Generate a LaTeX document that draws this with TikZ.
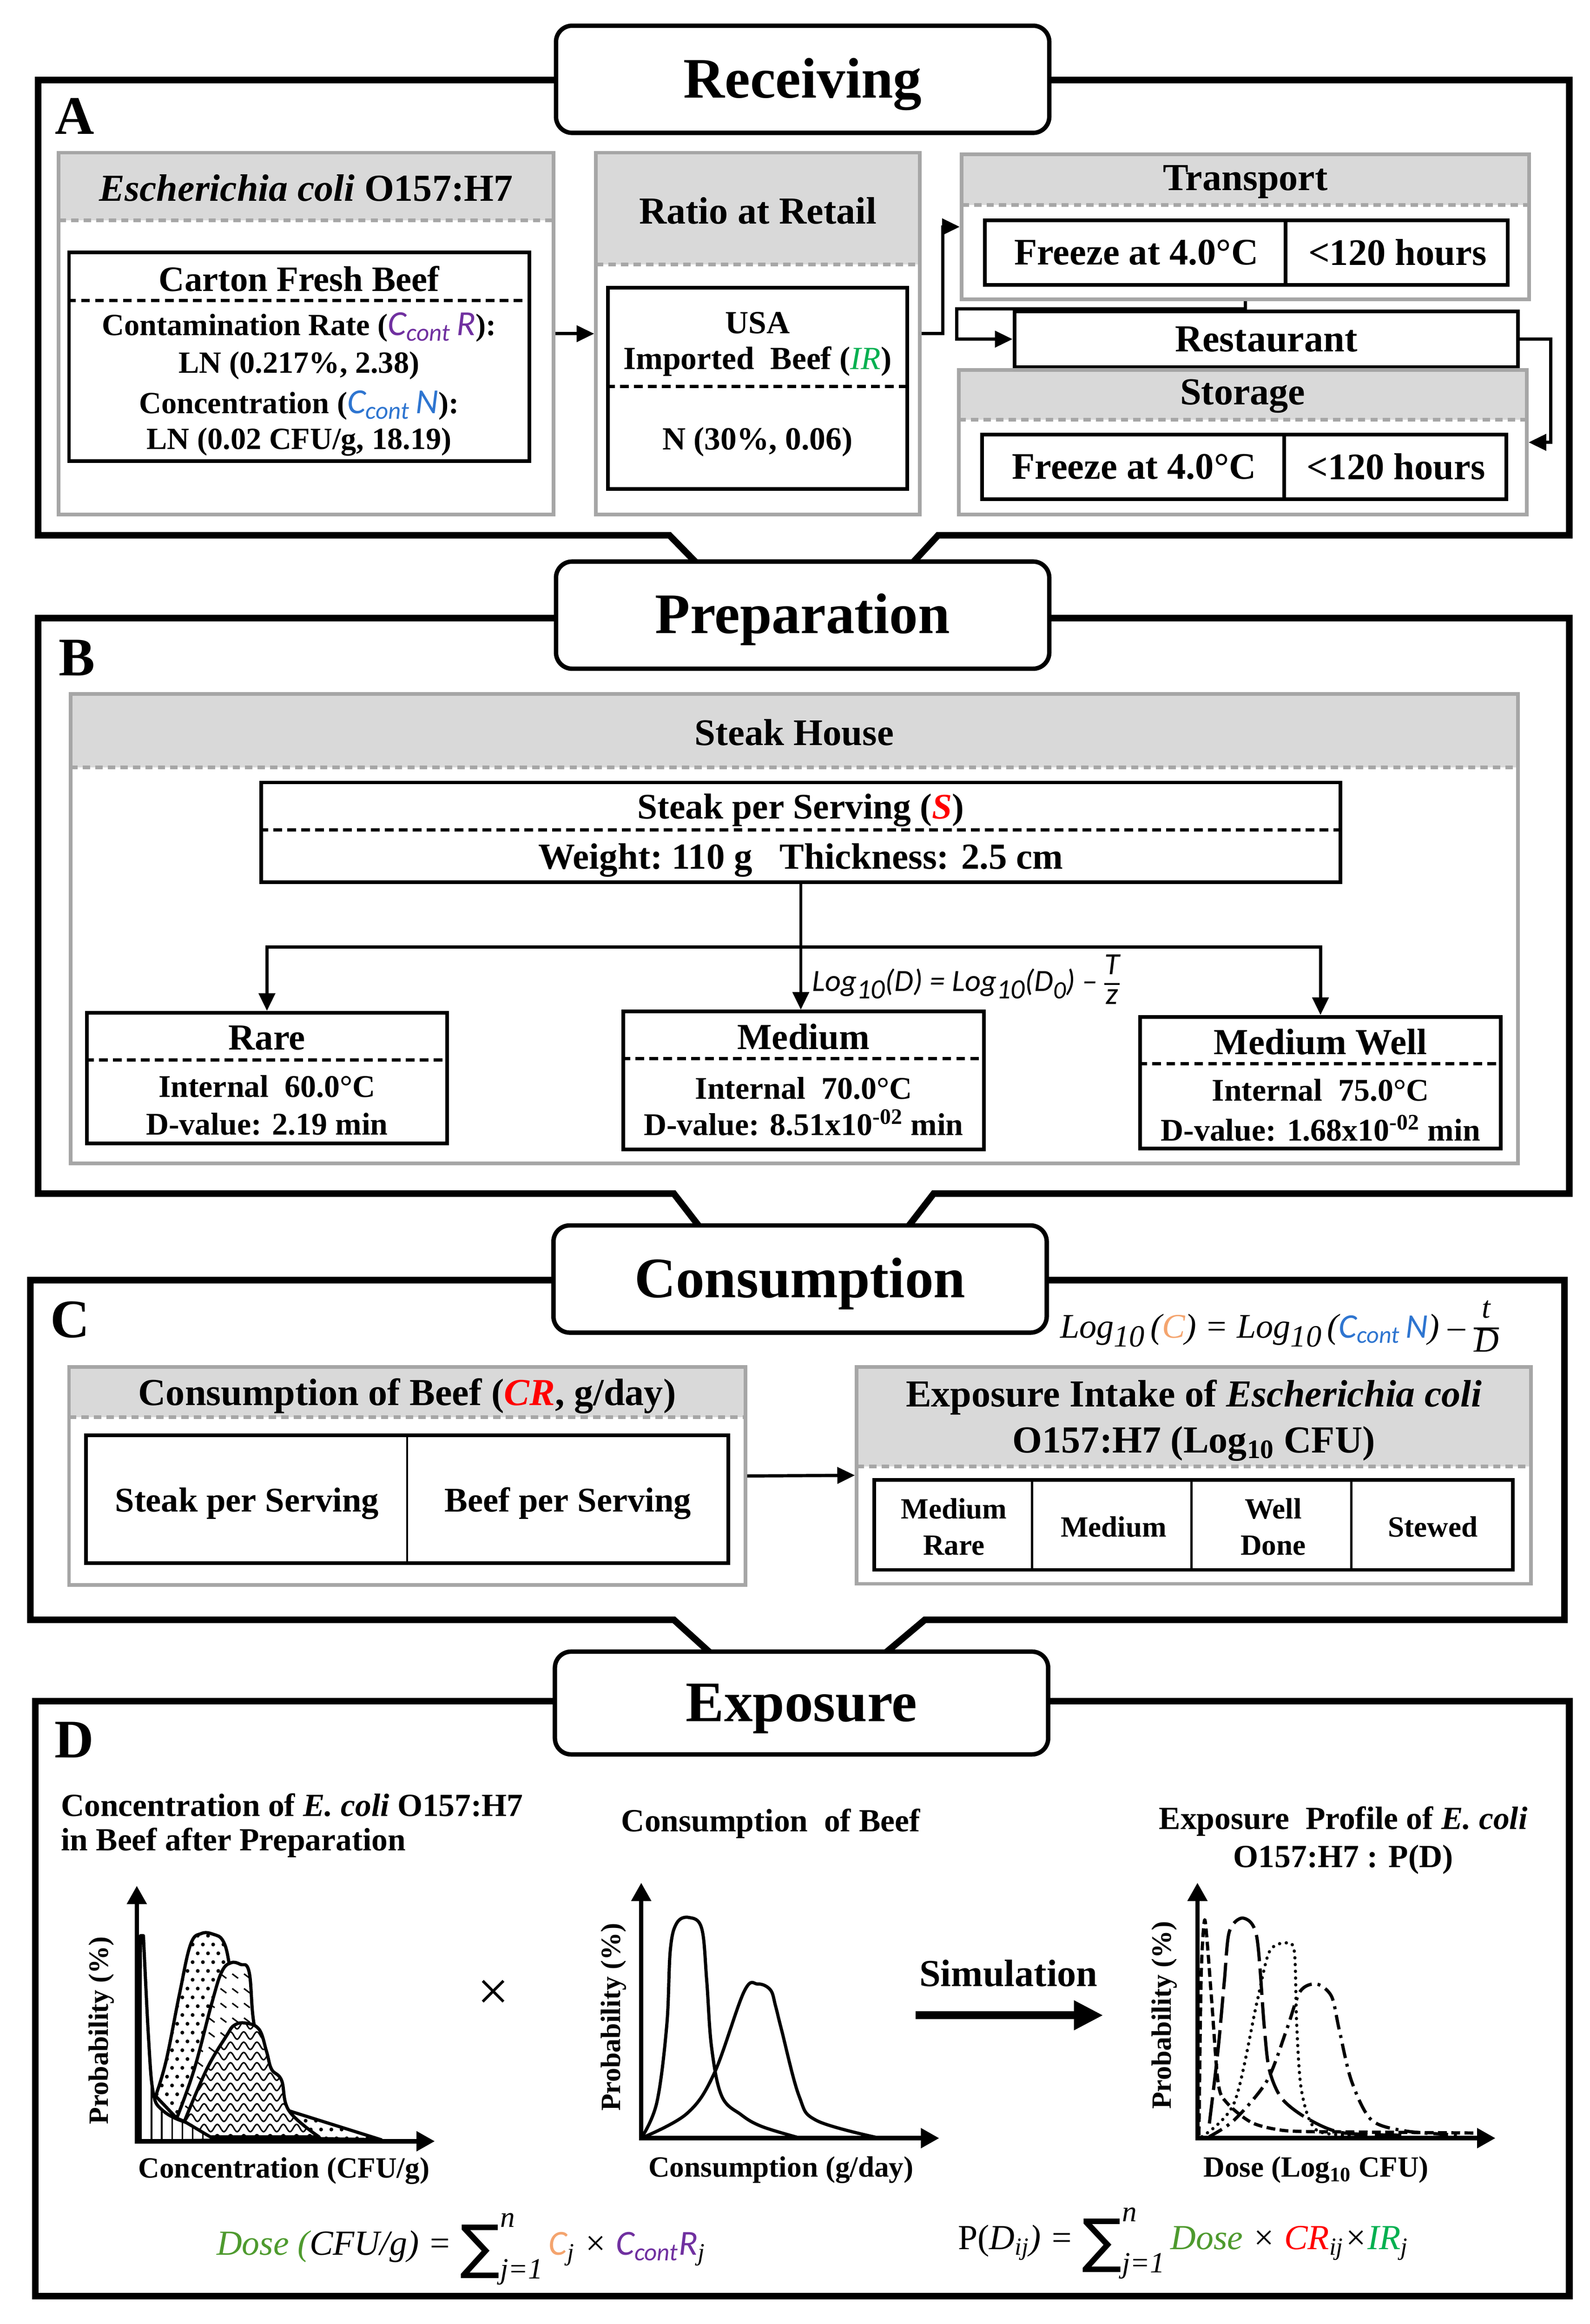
\documentclass[tikz,border=0pt]{standalone}
\usepackage{fontspec}
\setmainfont{Liberation Serif}
\newfontfamily\calfont{Carlito}
\newfontfamily\symfont{DejaVu Sans}
\usetikzlibrary{arrows.meta,decorations.pathmorphing}
\definecolor{panelgray}{HTML}{A6A6A6}
\definecolor{headgray}{HTML}{D9D9D9}
\definecolor{cpurple}{HTML}{7030A0}
\definecolor{cblue}{HTML}{2E75D0}
\definecolor{cgreen}{HTML}{00B050}
\definecolor{cdose}{HTML}{4E9A2E}
\definecolor{corange}{HTML}{F4A46E}
\newcommand\fsz[2]{\fontsize{#1}{#2}\selectfont}
\newcommand\ccont[1]{{\calfont\mdseries\itshape\fsz{24}{24}C\textsubscript{cont}\,#1}}
\newcommand\fracbox[2]{{\setlength\arrayrulewidth{1.2pt}\renewcommand\arraystretch{0.9}\begin{tabular}[c]{@{}c@{}}#1\\\hline #2\end{tabular}}}
\newcommand\bigsum{{\symfont\upshape\fsz{40}{40}\raisebox{-8pt}{∑}}\raisebox{19pt}{\rlap{\fsz{20}{20}\itshape n}}\raisebox{-16pt}{\fsz{20}{20}\itshape j=1}\,}
% shapes of the first plot
\newcommand\spikepath{(1.5,0) -- (2.5,-140) -- (4.5,-140) -- plot[smooth,tension=.6] coordinates {(4.5,-140)(8,-70)(11,-34)(16.8,-21.7)(34,-12.7)(67.8,-5.9)(110,-1.5)} -- cycle}
\newcommand\dotpath{plot[smooth,tension=.65] coordinates {(12.8,-30.8)(20,-55)(29,-100)(36.6,-134)(44,-141.5)(52,-141)(58.7,-136.5)(62.8,-121.5)(67,-88)(75,-55)(88,-33)(103.7,-20.7)} -- (166.5,-1) -- (60,-3) -- (27.2,-15.7) -- cycle}
\newcommand\hatchpath{plot[smooth,tension=.65] coordinates {(27.2,-15.7)(39.1,-49)(51.1,-94.2)(57.8,-115.3)(64,-121.5)(70.5,-120.5)(76.5,-115.3)(79.9,-79.5)(88.4,-49)(97,-25)(110,-8)(125,-2)} -- (60,-2) -- cycle}
\newcommand\wavepath{plot[smooth,tension=.65] coordinates {(32.4,-13.5)(47.6,-49)(61.2,-72)(66.4,-79)(74,-80.5)(83.3,-76.2)(88.4,-61)(91.8,-49)(98.6,-41.5)(103.7,-20.7)(124.1,-3)} -- (50,-3) -- cycle}

\begin{document}
\begin{tikzpicture}[x=1pt,y=-1pt,>={Triangle[length=12pt,width=11pt]},
  frame/.style={line width=4.5pt},
  titlebox/.style={draw,line width=3pt,rounded corners=11pt,fill=white,inner sep=0pt,
    minimum width=336pt,minimum height=73pt,text height=25pt,text depth=0pt,font=\fsz{39}{39}\bfseries},
  letter/.style={inner sep=0pt,font=\fsz{37}{37}\bfseries},
  gdash/.style={draw=panelgray,line width=2.5pt,dash pattern=on 5pt off 3.5pt},
  panel/.style={draw=panelgray,line width=2.5pt,inner sep=0pt,
    path picture={\fill[headgray] (path picture bounding box.north west) rectangle ([yshift=-#1]path picture bounding box.north east);
      \draw[gdash] ([yshift=-#1]path picture bounding box.north west) -- ([yshift=-#1]path picture bounding box.north east);}},
  ibox/.style={draw,line width=2.5pt,inner sep=0pt},
  bdash/.style={line width=2.2pt,dash pattern=on 6pt off 3.5pt},
  cell/.style={line width=1.5pt},
  conn/.style={line width=2.2pt,->},
  lbl/.style={inner sep=0pt,font=\fsz{#1}{#1}\bfseries},
  axis/.style={line width=3pt,{Triangle[length=12.5pt,width=13pt]}-{Triangle[length=12.5pt,width=13pt]}},
  curve/.style={line width=2.2pt,line join=round},
  ylab/.style={inner sep=0pt,rotate=90,font=\fsz{19}{19}\bfseries},
  xlab/.style={inner sep=0pt,font=\fsz{20}{20}\bfseries}]
\useasboundingbox (0,0) rectangle (1083,1583);

% frames of the four stages
\draw[frame] (378,54.5) -| (26,364.6) -- (456,364.6) -- (474,383);
\draw[frame] (715,54.5) -| (1069,364.6) -- (639,364.6) -- (622,383);
\draw[frame] (378,421) -| (26,813) -- (459,813) -- (476,835);
\draw[frame] (715,421) -| (1069,813) -- (636,813) -- (619,835);
\draw[frame] (376,872) -| (20.7,1103.3) -- (459,1103.3) -- (484,1126);
\draw[frame] (714,872) -| (1065.7,1103.3) -- (630,1103.3) -- (603,1126);
\draw[frame] (378,1158.7) -| (24,1564) -| (1069,1158.7) -- (713,1158.7);

\node[titlebox] (receiving) at (546.75,54) {Receiving};
\node[titlebox] (preparation) at (546.75,419) {Preparation};
\node[titlebox] (consumption) at (545,871.2) {Consumption};
\node[titlebox,minimum height=70pt] (exposure) at (546,1160) {Exposure};
\node[letter] (letA) at (51,79) {A};
\node[letter] (letB) at (52.5,448) {B};
\node[letter] (letC) at (47.75,899) {C};
\node[letter] (letD) at (50.5,1185) {D};

%% A: receiving
\node[panel=46pt,minimum width=337pt,minimum height=246.6pt] (ecoli) at (208.5,227.3) {};
\node[lbl=26] (ecolihead) at (208.5,128) {\textit{Escherichia coli} O157:H7};
\node[ibox,minimum width=313.5pt,minimum height=142pt] (carton) at (203.75,243) {};
\draw[bdash] ([yshift=-34pt]carton.north west) -- ([yshift=-34pt]carton.north east);
\node[lbl=24.3] (carton1) at (203.75,190) {Carton Fresh Beef};
\node[lbl=21] (carton2) at (203.75,223) {Contamination Rate (\textcolor{cpurple}{\ccont{R}}):};
\node[lbl=21] (carton3) at (203.75,249) {LN (0.217\%, 2.38)};
\node[lbl=21] (carton4) at (203.75,276) {Concentration (\textcolor{cblue}{\ccont{N}}):};
\node[lbl=21] (carton5) at (203.75,301) {LN (0.02 CFU/g, 18.19)};

\node[panel=76pt,minimum width=220.5pt,minimum height=246.6pt] (ratio) at (516.25,227.3) {};
\node[lbl=26] (ratiohead) at (516.25,143.6) {Ratio at Retail};
\node[ibox,minimum width=204pt,minimum height=137pt] (usa) at (516,264.5) {};
\draw[bdash] ([yshift=-68.6pt]usa.north west) -- ([yshift=-68.6pt]usa.north east);
\node[lbl=22] (usa1) at (516,220) {USA};
\node[lbl=22] (usa2) at (516,246) {Imported\ \ Beef (\textcolor{cgreen}{\mdseries\itshape IR})};
\node[lbl=22] (usa3) at (516,301) {N (30\%, 0.06)};

\node[panel=34.5pt,minimum width=386.6pt,minimum height=99pt] (transport) at (848.3,154.5) {};
\node[lbl=26] (transhead) at (848.3,124) {Transport};
\node[ibox,minimum width=356pt,minimum height=44pt] (tbox) at (849,172) {};
\draw[ibox] ([xshift=206pt]tbox.north west) -- ([xshift=206pt]tbox.south west);
\node[lbl=25.5] (tfreeze) at (774,172) {Freeze at 4.0°C};
\node[lbl=25.5] (thours) at (952,172) {<120 hours};

\node[ibox,minimum width=343pt,minimum height=38pt,font=\fsz{26}{26}\bfseries] (restaurant) at (862.5,231) {Restaurant};

\node[panel=34pt,minimum width=387pt,minimum height=98.6pt] (storage) at (846.5,301.3) {};
\node[lbl=26] (storhead) at (846.5,270) {Storage};
\node[ibox,minimum width=357pt,minimum height=44pt] (sbox) at (847.5,318) {};
\draw[ibox] ([xshift=207pt]sbox.north west) -- ([xshift=207pt]sbox.south west);
\node[lbl=25.5] (sfreeze) at (772.5,318) {Freeze at 4.0°C};
\node[lbl=25.5] (shours) at (951,318) {<120 hours};

\draw[conn] (ecoli.east) -- (ratio.west);
\draw[conn] (ratio.east) -- ++(14.5,0) |- (transport.west);
\draw[conn] (transport.south) -- ++(0,5) -| ([xshift=-38pt]restaurant.west) -- (restaurant.west);
\draw[conn] (restaurant.east) -- ++(21,0) |- (storage.east);

%% B: preparation
\node[panel=49.8pt,minimum width=986pt,minimum height=319.5pt] (steakhouse) at (541,632.55) {};
\node[lbl=25.6] (househead) at (541,499) {Steak House};
\node[ibox,minimum width=735pt,minimum height=68pt] (steak) at (545.5,567) {};
\draw[bdash] ([yshift=-33.5pt]steak.north west) -- ([yshift=-33.5pt]steak.north east);
\node[lbl=24.5] (steak1) at (545.5,552) {Steak per Serving (\textcolor{red}{\textit{S}})};
\node[lbl=25] (steak2) at (545.5,586) {Weight:\ 110 g\ \ \ Thickness: 2.5 cm};

\foreach \n/\x/\y/\h/\t/\d in {rare/181.85/734.25/88.9/Rare/{2.19 min},
    medium/547.4/736/94/Medium/{8.51x10\textsuperscript{-02} min},
    medwell/899.5/737.5/89.8/Medium Well/{1.68x10\textsuperscript{-02} min}}
{
\node[ibox,minimum width=245.5pt,minimum height=\h pt] (\n) at (\x,\y) {};
\draw[bdash] ([yshift=-33.3pt]\n.north west) -- ([yshift=-33.3pt]\n.north east);
\node[lbl=25] (\n1) at ([yshift=-18.5pt]\n.north) {\t};
\node[lbl=21.5] (\n3) at ([yshift=-77pt]\n.north) {D-value: \d};
}
\node[lbl=21.5] (rare2) at (181.85,740) {Internal\ \ 60.0°C};
\node[lbl=21.5] (medium2) at (547.4,741.3) {Internal\ \ 70.0°C};
\node[lbl=21.5] (medwell2) at (899.5,742.7) {Internal\ \ 75.0°C};

\coordinate (split) at (545.5,645);
\draw[conn] (steak.south) -- (steak.south |- medium.north);
\draw[conn] (split) -| (rare.north);
\draw[conn] (split) -| (medwell.north);
\node[inner sep=0pt,font=\fsz{21}{21}\calfont\itshape,anchor=west] (dform) at (553,670)
  {Log\raisebox{-5pt}{\fsz{19}{19}10}(D) = Log\raisebox{-5pt}{\fsz{19}{19}10}(D\raisebox{-5pt}{\fsz{17}{17}0}) – \fracbox{T}{z}};

%% C: consumption
\node[inner sep=0pt,font=\fsz{23.5}{23.5}\itshape,anchor=west] (cform) at (722,905)
  {Log\raisebox{-6pt}{\fsz{21}{21}10}\,(\textcolor{corange}{C}) = Log\raisebox{-6pt}{\fsz{21}{21}10}\,(\textcolor{cblue}{\calfont C\textsubscript{cont}\,N}) – \fracbox{\fsz{21}{21}t}{D}};

\node[panel=34.4pt,minimum width=460.7pt,minimum height=148.7pt] (cob) at (277.35,1005.35) {};
\node[lbl=26] (cobhead) at (277.35,951) {Consumption of Beef (\textcolor{red}{\textit{CR}}, g/day)};
\node[ibox,minimum width=437.3pt,minimum height=86.9pt] (cobtab) at (277.35,1021.15) {};
\draw[cell] (cobtab.north) -- (cobtab.south);
\node[lbl=23.6] (cob1) at (168.2,1024) {Steak per Serving};
\node[lbl=23.6] (cob2) at (386.85,1024) {Beef per Serving};

\node[panel=68pt,minimum width=459.4pt,minimum height=147.8pt] (expo) at (813.3,1004.9) {};
\node[lbl=26,align=center,font=\fsz{26}{31.4}\bfseries] (expohead) at (813.3,967.5)
  {Exposure Intake of \textit{Escherichia coli}\\O157:H7 (Log\textsubscript{10} CFU)};
\node[ibox,minimum width=435.1pt,minimum height=61.3pt] (expotab) at (812.95,1038.65) {};
\foreach \i in {1,2,3}
  \draw[cell] ([xshift=\i*108.78pt]expotab.north west) -- ([xshift=\i*108.78pt]expotab.south west);
\foreach \n/\x/\t in {mr/649.8/{Medium\\Rare},md/758.6/Medium,wd/867.3/{Well\\Done},sw/976.1/Stewed}
  \node[lbl=20,align=center,font=\fsz{20}{24.6}\bfseries] (\n) at (\x,1040) {\t};

\draw[conn] (cob.east) -- (expo.west);

%% D: exposure
\node[lbl=22,anchor=west] (p1t1) at (41.4,1229.6) {Concentration of \textit{E. coli} O157:H7};
\node[lbl=22,anchor=west] (p1t2) at (41.4,1255) {in Beef after Preparation};
\node[lbl=22] (p2t) at (525,1242) {Consumption\ \ of Beef};
\node[lbl=22] (p3t1) at (915,1240.7) {Exposure\ \ Profile of \textit{E. coli}};
\node[lbl=22] (p3t2) at (915,1266.6) {O157:H7 : P(D)};

% plot 1
\coordinate (o1) at (93.2,1458.5);
\begin{scope}[shift={(o1)}]
\fill[white] \spikepath;
\begin{scope}
\clip \spikepath;
\foreach \i in {3,10,...,115} \draw[line width=1pt] (\i,0) -- (\i,-145);
\end{scope}
\draw[curve] \spikepath;
\fill[white] \dotpath;
\begin{scope}
\clip \dotpath;
\foreach \j in {2,14,...,146} \foreach \i in {10,17,...,170} \fill (\i,-\j) circle (1.3);
\foreach \j in {8,20,...,146} \foreach \i in {13.5,20.5,...,170} \fill (\i,-\j) circle (1.3);
\end{scope}
\draw[curve] \dotpath;
\fill[white] \hatchpath;
\begin{scope}
\clip \hatchpath;
\foreach \j in {4,14,...,124} \foreach \i in {25,33,...,130} \draw[line width=1pt] (\i,-\j) -- ++(4,3);
\end{scope}
\draw[curve] \hatchpath;
\fill[white] \wavepath;
\begin{scope}
\clip \wavepath;
\foreach \j in {2,9,...,86} \draw[line width=1pt,decorate,decoration={snake,amplitude=2.5pt,segment length=9pt}] (25,-\j) -- (130,-\j);
\end{scope}
\draw[curve] \wavepath;
\draw[axis] (0,-174) -- (0,0) -- (203,0);
\end{scope}
\node[ylab] (p1y) at (69,1383) {Probability (\%)};
\node[xlab] (p1x) at (193.4,1478.8) {Concentration (CFU/g)};
\node[inner sep=0pt,font=\fsz{38}{38}] (times) at (336,1359) {×};

% plot 2
\coordinate (o2) at (436.8,1456.4);
\begin{scope}[shift={(o2)}]
\draw[curve] plot[smooth,tension=.6] coordinates {(0,0)(10.6,-24.2)(17.4,-77)(19.8,-128)(24.2,-146.5)(32.6,-150.3)(41.2,-142.8)(44.6,-107.4)(47.9,-62)(54.8,-28.7)(68,-16)(82,-8)(106.6,-0.5)};
\draw[curve] plot[smooth,tension=.6] coordinates {(0,0)(30.9,-16.6)(49.6,-43.9)(70,-99.7)(79.4,-105)(88,-101)(91.5,-90)(95.5,-74.1)(107.5,-28.7)(119.3,-12.1)(160.2,-0.5)};
\draw[axis] (0,-174) -- (0,0) -- (203,0);
\end{scope}
\node[ylab] (p2y) at (418,1374) {Probability (\%)};
\node[xlab] (p2x) at (532,1478) {Consumption (g/day)};

% simulation arrow
\coordinate (simstart) at (623.7,1372.7);
\coordinate (simend) at (751.5,1372.7);
\draw[line width=5.5pt,-{Triangle[length=20pt,width=19pt]}] (simstart) -- (simend);
\node[lbl=26] (simul) at (687,1344) {Simulation};

% plot 3
\coordinate (o3) at (815.7,1456.4);
\begin{scope}[shift={(o3)}]
\draw[curve,dash pattern=on 6pt off 3pt] plot[smooth,tension=.5] coordinates {(1,-2)(2.5,-110)(4.7,-148)(6.5,-135)(9.8,-92)(14.1,-37.7)(20,-24.1)(37,-10.6)(57.4,-5.4)(80,-4.4)} -- (190,-3.5);
\draw[curve,dash pattern=on 18pt off 5pt] plot[smooth,tension=.5] coordinates {(8.1,-10)(14,-60)(18.3,-107)(21.7,-140.7)(31,-149.9)(40.3,-137.6)(45.4,-77)(48.9,-46.8)(57.4,-27.1)(74.5,-13.6)(98.1,-3.8)(140,-2)};
\draw[curve,line cap=round,dash pattern=on 0.1pt off 4.5pt] plot[smooth,tension=.5] coordinates {(3,-1)(25.1,-24.2)(40.4,-92.1)(48.9,-126.8)(59.9,-133)(66,-127)(67.6,-77)(71,-31.6)(81.2,-5.4)(110,-2)};
\draw[curve,dash pattern=on 10pt off 4pt on 2pt off 4pt] plot[smooth,tension=.5] coordinates {(8,-1)(25.1,-12.4)(47.3,-39)(60.8,-74.1)(70,-100)(81.2,-105)(91.3,-96.6)(96.5,-74.1)(104.9,-39)(118.5,-12.4)(142.3,-4.8)(180,-2)};
\draw[axis] (0,-174) -- (0,0) -- (203,0);
\end{scope}
\node[ylab] (p3y) at (793,1372.7) {Probability (\%)};
\node[xlab] (p3x) at (896.5,1478.2) {Dose (Log\textsubscript{10} CFU)};

% formulas
\node[inner sep=0pt,font=\fsz{24}{24}\itshape] (fdose) at (314,1532)
  {\textcolor{cdose}{Dose (}CFU/g) = \bigsum\textcolor{corange}{\calfont C}\textsubscript{j} × \textcolor{cpurple}{\calfont C\textsubscript{cont}R}\textsubscript{j}};
\node[inner sep=0pt,font=\fsz{24}{24}\itshape] (fprob) at (806,1528)
  {\upshape P(\itshape D\textsubscript{ij}) = \bigsum\textcolor{cdose}{Dose} × \textcolor{red}{CR}\textsubscript{ij}×\textcolor{cgreen}{IR}\textsubscript{j}};
\end{tikzpicture}
\end{document}
